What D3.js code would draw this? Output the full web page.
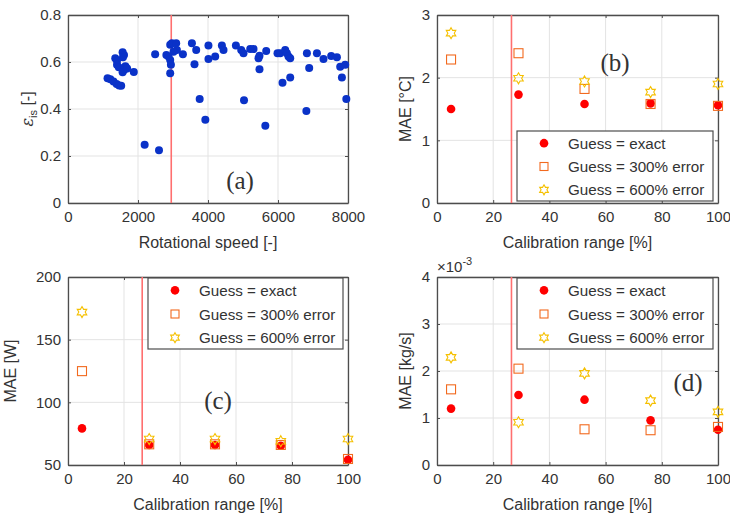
<!DOCTYPE html>
<html>
<head>
<meta charset="utf-8">
<script src="https://cdn.jsdelivr.net/npm/d3@7"></script>
<style>
  body { margin: 0; background: #fff; }
  svg text { font-family: "Liberation Sans", Arial, sans-serif; fill: #333; }
</style>
</head>
<body>
<div id="chart"></div>
<script>
// panel (a): rotational speed vs isentropic efficiency
var speed = [1130,1210,1300,1390,1460,1520,1350,1400,1560,1600,1570,1400,1450,1640,1600,1560,1880,1690,
  2190,2600,2490,2810,2920,2968,3091,3111,3014,2920,2940,2920,2871,3283,3540,3663,3614,3762,3924,
  4013,4013,4206,4397,4443,4797,4949,5014,5206,5300,5471,5443,5663,5471,5029,5638,
  5986,6063,6206,6254,6300,6349,6129,6349,6810,6826,6891,7112,7300,7520,7683,7777,7920,7826,7952];
var efficiency = [0.531,0.527,0.517,0.506,0.500,0.499,0.616,0.605,0.642,0.630,0.620,0.588,0.578,0.582,0.566,0.556,0.557,0.572,
  0.248,0.224,0.633,0.630,0.673,0.680,0.680,0.651,0.644,0.609,0.588,0.552,0.623,0.633,0.680,0.651,0.590,0.443,0.354,
  0.670,0.613,0.623,0.670,0.651,0.670,0.651,0.637,0.655,0.655,0.627,0.616,0.647,0.569,0.437,0.329,
  0.637,0.637,0.651,0.637,0.623,0.616,0.512,0.534,0.392,0.637,0.574,0.637,0.613,0.626,0.620,0.580,0.588,0.534,0.443];
var speedLimit = 2950;

// panels (b)-(d): calibration range vs MAE
var calRange = [5, 29, 52.5, 76, 100];
var rangeLimit = 26.5;
var tempExact = [1.50, 1.73, 1.58, 1.59, 1.56];
var temp300   = [2.29, 2.39, 1.82, 1.58, 1.55];
var temp600   = [2.71, 1.99, 1.94, 1.77, 1.90];
var powerExact = [79.2, 66.0, 66.0, 65.4, 54.2];
var power300   = [124.9, 66.5, 66.5, 66.0, 54.8];
var power600   = [172.0, 70.7, 70.7, 69.0, 70.7];
var massExact = [1.20, 1.49, 1.39, 0.95, 0.75];
var mass300   = [1.61, 2.05, 0.76, 0.74, 0.81];
var mass600   = [2.29, 0.91, 1.95, 1.37, 1.13];
var legendNames = ["Guess = exact", "Guess = 300% error", "Guess = 600% error"];

var W = 730, H = 516;
var svg = d3.select("#chart").append("svg").attr("width", W).attr("height", H);

var axisColor = "#4d4d4d", gridColor = "#e3e3e3";
var redLine = "#ff6f6f";
var c1 = "#ff0000", c2 = "#f26a1f", c3 = "#f5c000";

// six point star for MATLAB style hexagram marker
function hexagram(R) {
  var r = R / Math.sqrt(3), pts = [];
  for (var i = 0; i < 12; i++) {
    var a = -Math.PI / 2 + i * Math.PI / 6, rr = i % 2 ? r : R;
    pts.push([rr * Math.cos(a), rr * Math.sin(a)]);
  }
  return "M" + pts.join("L") + "Z";
}

function makePanel(box, xDom, yDom, xTicks, yTicks) {
  var g = svg.append("g");
  var x = d3.scaleLinear().domain(xDom).range([box.x0, box.x1]);
  var y = d3.scaleLinear().domain(yDom).range([box.y1, box.y0]);
  var fmt = d3.format("");
  // grid
  g.selectAll(".gx").data(xTicks).enter().append("line")
    .attr("x1", d => x(d)).attr("x2", d => x(d)).attr("y1", box.y0).attr("y2", box.y1)
    .attr("stroke", gridColor);
  g.selectAll(".gy").data(yTicks).enter().append("line")
    .attr("y1", d => y(d)).attr("y2", d => y(d)).attr("x1", box.x0).attr("x2", box.x1)
    .attr("stroke", gridColor);
  // axes with inward ticks
  var ax = g.append("g").attr("transform", "translate(0," + box.y1 + ")")
    .call(d3.axisBottom(x).tickValues(xTicks).tickFormat(fmt).tickSizeInner(-3).tickSizeOuter(0).tickPadding(8));
  var ay = g.append("g").attr("transform", "translate(" + box.x0 + ",0)")
    .call(d3.axisLeft(y).tickValues(yTicks).tickFormat(fmt).tickSizeInner(-3).tickSizeOuter(0).tickPadding(7));
  var axt = g.append("g").attr("transform", "translate(0," + box.y0 + ")")
    .call(d3.axisTop(x).tickValues(xTicks).tickSizeInner(-3).tickSizeOuter(0).tickFormat(""));
  var ayr = g.append("g").attr("transform", "translate(" + box.x1 + ",0)")
    .call(d3.axisRight(y).tickValues(yTicks).tickSizeInner(-3).tickSizeOuter(0).tickFormat(""));
  [ax, ay, axt, ayr].forEach(function (a) {
    a.selectAll("path").attr("stroke", axisColor).attr("stroke-width", 1.3);
    a.selectAll("line").attr("stroke", axisColor);
    a.selectAll("text").style("font-size", "15px").attr("fill", "#333")
      .style("font-family", "Liberation Sans, Arial, sans-serif");
  });
  return {g: g, x: x, y: y, box: box};
}

function vline(p, v) {
  p.g.append("line").attr("x1", p.x(v)).attr("x2", p.x(v))
    .attr("y1", p.box.y0).attr("y2", p.box.y1)
    .attr("stroke", redLine).attr("stroke-width", 1.6);
}

function axisLabels(p, xl, yl, yx) {
  var b = p.box;
  p.g.append("text").attr("x", (b.x0 + b.x1) / 2).attr("y", b.y1 + 45)
    .attr("text-anchor", "middle").style("font-size", "16px").text(xl);
  if (yl) p.g.append("text").attr("transform", "translate(" + yx + "," + (b.y0 + b.y1) / 2 + ") rotate(-90)")
    .attr("text-anchor", "middle").style("font-size", "16px").text(yl);
}

function tag(p, txt, cx, cy) {
  p.g.append("text").attr("x", cx).attr("y", cy).attr("text-anchor", "middle")
    .style("font-family", "Liberation Serif, 'Times New Roman', serif").style("font-size", "25px")
    .attr("fill", "#000").text(txt);
}

function series(p, vals, kind) {
  var sel = p.g.selectAll(".s" + kind).data(calRange.map((c, i) => [c, vals[i]])).enter();
  if (kind === 1) {
    sel.append("circle").attr("cx", d => p.x(d[0])).attr("cy", d => p.y(d[1]))
      .attr("r", 4.3).attr("fill", c1);
  } else if (kind === 2) {
    sel.append("rect").attr("x", d => p.x(d[0]) - 4.5).attr("y", d => p.y(d[1]) - 4.5)
      .attr("width", 9).attr("height", 9).attr("fill", "none").attr("stroke", c2).attr("stroke-width", 1.1);
  } else {
    sel.append("path").attr("d", hexagram(5.5))
      .attr("transform", d => "translate(" + p.x(d[0]) + "," + p.y(d[1]) + ")")
      .attr("fill", "none").attr("stroke", c3).attr("stroke-width", 1.1);
  }
}

function legend(p, lx0, ly0, lx1, ly1) {
  var g = p.g.append("g");
  g.append("rect").attr("x", lx0).attr("y", ly0).attr("width", lx1 - lx0).attr("height", ly1 - ly0)
    .attr("fill", "#fff").attr("stroke", axisColor).attr("stroke-width", 1.2);
  var rowH = (ly1 - ly0) / 3;
  legendNames.forEach(function (n, i) {
    var cy = ly0 + rowH * (i + 0.5) + 0.5, mx = lx0 + 27;
    if (i === 0) g.append("circle").attr("cx", mx).attr("cy", cy).attr("r", 4.3).attr("fill", c1);
    if (i === 1) g.append("rect").attr("x", mx - 4).attr("y", cy - 4).attr("width", 8).attr("height", 8)
      .attr("fill", "none").attr("stroke", c2).attr("stroke-width", 1.1);
    if (i === 2) g.append("path").attr("d", hexagram(5)).attr("transform", "translate(" + mx + "," + cy + ")")
      .attr("fill", "none").attr("stroke", c3).attr("stroke-width", 1.1);
    g.append("text").attr("x", lx0 + 51).attr("y", cy + 5.5).style("font-size", "15.2px").attr("fill", "#111").text(n);
  });
}

var pctTicks = [0, 20, 40, 60, 80, 100];

// (a)
var pa = makePanel({x0: 68, x1: 348, y0: 15, y1: 203}, [0, 8000], [0, 0.8],
  [0, 2000, 4000, 6000, 8000], [0, 0.2, 0.4, 0.6, 0.8]);
vline(pa, speedLimit);
pa.g.selectAll(".pt").data(speed.map((s, i) => [s, efficiency[i]])).enter().append("circle")
  .attr("cx", d => pa.x(d[0])).attr("cy", d => pa.y(d[1])).attr("r", 4).attr("fill", "#0a32c8");
axisLabels(pa, "Rotational speed [-]", "", 0);
var yl = pa.g.append("text").attr("transform", "translate(33,109) rotate(-90)")
  .attr("text-anchor", "middle").style("font-size", "16px");
yl.append("tspan").style("font-family", "DejaVu Serif, serif").style("font-style", "italic").text("\u03B5");
yl.append("tspan").attr("dy", 4).style("font-size", "11px").text("is");
yl.append("tspan").attr("dy", -4).text(" [-]");
tag(pa, "(a)", 240, 189);

// (b)
var pb = makePanel({x0: 437, x1: 718, y0: 15, y1: 203}, [0, 100], [0, 3], pctTicks, [0, 1, 2, 3]);
vline(pb, rangeLimit);
series(pb, tempExact, 1); series(pb, temp300, 2); series(pb, temp600, 3);
axisLabels(pb, "Calibration range [%]", "MAE [\u00B0C]", 411);
legend(pb, 517, 131, 713, 201);
tag(pb, "(b)", 615, 71);

// (c)
var pc = makePanel({x0: 68, x1: 348, y0: 277, y1: 465}, [0, 100], [50, 200], pctTicks, [50, 100, 150, 200]);
vline(pc, rangeLimit);
series(pc, powerExact, 1); series(pc, power300, 2); series(pc, power600, 3);
axisLabels(pc, "Calibration range [%]", "MAE [W]", 16);
legend(pc, 148, 278, 343, 349);
tag(pc, "(c)", 218, 409);

// (d)
var pd = makePanel({x0: 437, x1: 718, y0: 277, y1: 465}, [0, 100], [0, 4], pctTicks, [0, 1, 2, 3, 4]);
vline(pd, rangeLimit);
series(pd, massExact, 1); series(pd, mass300, 2); series(pd, mass600, 3);
axisLabels(pd, "Calibration range [%]", "MAE [kg/s]", 411);
legend(pd, 517, 278, 713, 349);
tag(pd, "(d)", 688, 391);
var ex = pd.g.append("text").attr("x", 437).attr("y", 272).style("font-size", "15px");
ex.append("tspan").text("\u00D710");
ex.append("tspan").attr("dy", -7).style("font-size", "11px").text("-3");
</script>
</body>
</html>
